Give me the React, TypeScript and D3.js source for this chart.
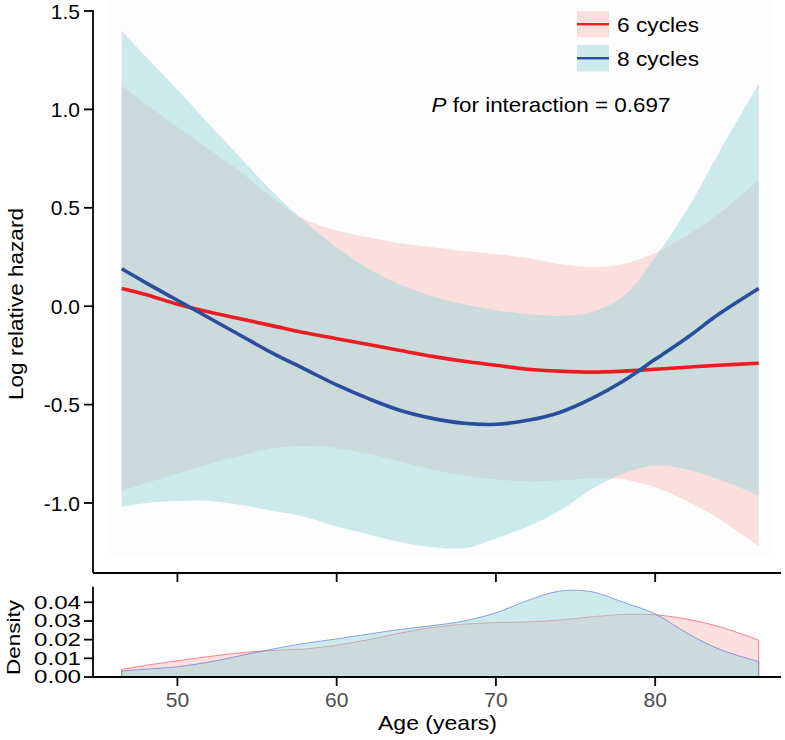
import React from "react";
import * as d3 from "d3";

// ---- data ----
const ages = [46.5, 48, 50, 52, 54, 56, 58, 60, 62, 64, 66, 68, 70, 72, 74, 76, 78, 80, 82, 84, 86.5];

// 6 cycles
const hr6 = [0.09, 0.06, 0.01, -0.03, -0.065, -0.1, -0.135, -0.165, -0.195, -0.225, -0.255, -0.28, -0.3, -0.32, -0.33, -0.335, -0.33, -0.32, -0.31, -0.3, -0.29];
const hi6 = [1.12, 1.03, 0.91, 0.795, 0.68, 0.55, 0.44, 0.385, 0.35, 0.32, 0.3, 0.28, 0.265, 0.245, 0.215, 0.2, 0.215, 0.27, 0.36, 0.47, 0.64];
const lo6 = [-0.94, -0.9, -0.85, -0.8, -0.76, -0.72, -0.71, -0.72, -0.75, -0.79, -0.83, -0.86, -0.88, -0.89, -0.885, -0.875, -0.88, -0.92, -0.99, -1.08, -1.22];

// 8 cycles
const hr8 = [0.19, 0.12, 0.03, -0.06, -0.15, -0.24, -0.32, -0.4, -0.47, -0.53, -0.57, -0.595, -0.6, -0.58, -0.54, -0.47, -0.38, -0.27, -0.16, -0.04, 0.09];
const hi8 = [1.4, 1.27, 1.1, 0.925, 0.75, 0.58, 0.43, 0.3, 0.19, 0.11, 0.05, 0.01, -0.02, -0.04, -0.05, -0.03, 0.05, 0.25, 0.49, 0.78, 1.13];
const lo8 = [-1.02, -1.0, -0.99, -0.99, -1.01, -1.04, -1.07, -1.12, -1.16, -1.2, -1.225, -1.23, -1.18, -1.12, -1.04, -0.93, -0.85, -0.81, -0.83, -0.88, -0.96];

// densities
const dens6 = [0.0041, 0.0062, 0.0087, 0.011, 0.013, 0.0142, 0.015, 0.017, 0.02, 0.0235, 0.0265, 0.0283, 0.0291, 0.0295, 0.0305, 0.0322, 0.0335, 0.0333, 0.031, 0.027, 0.0198];
const dens8 = [0.0032, 0.0042, 0.0055, 0.008, 0.0115, 0.015, 0.018, 0.0204, 0.023, 0.0255, 0.0275, 0.03, 0.0344, 0.041, 0.046, 0.0457, 0.04, 0.0338, 0.0235, 0.015, 0.0082];

const yTicks = [-1.0, -0.5, 0.0, 0.5, 1.0, 1.5];
const xTicks = [50, 60, 70, 80];
const densTicks = [0, 0.01, 0.02, 0.03, 0.04];
const seriesNames = ["6 cycles", "8 cycles"];

const RED = "#ec1c24";
const BLUE = "#2b4d9e";
const PINK_FILL = "rgba(248,180,182,0.42)";
const BLUE_FILL = "rgba(150,214,216,0.48)";
const FONT = "'Liberation Sans', Arial, Helvetica, sans-serif";

export default function App() {
  const x = d3.scaleLinear().domain([44.7, 87.9]).range([93, 781]);
  const y = d3.scaleLinear().domain([-1.0, 1.5]).range([503, 11]);
  const yd = d3.scaleLinear().domain([0, 0.04]).range([677, 602.3]);

  const idx = ages.map((_, i) => i);
  const curve = d3.curveCatmullRom.alpha(0.5);
  const band = (lo: number[], hi: number[]) =>
    d3.area<number>().x(i => x(ages[i])).y0(i => y(lo[i])).y1(i => y(hi[i])).curve(curve)(idx) || "";
  const line = (v: number[]) =>
    d3.line<number>().x(i => x(ages[i])).y(i => y(v[i])).curve(curve)(idx) || "";
  const dArea = (v: number[]) => {
    const a = d3.area<number>().x(i => x(ages[i])).y0(yd(0)).y1(i => yd(v[i])).curve(curve)(idx) || "";
    return a + "Z";
  };

  const axisW = 1.8;

  return (
    <svg width={785} height={740} style={{ position: "absolute", left: 0, top: 0, background: "#fff" }} fontFamily={FONT}>
      {/* faint panel background */}
      <rect x={109} y={0} width={664} height={557} fill="#fdfdfd" />

      {/* ribbons */}
      <path d={band(lo6, hi6)} fill={PINK_FILL} />
      <path d={band(lo8, hi8)} fill={BLUE_FILL} />
      {/* lines */}
      <path d={line(hr6)} fill="none" stroke={RED} strokeWidth={3.6} />
      <path d={line(hr8)} fill="none" stroke={BLUE} strokeWidth={3.6} />

      {/* top panel axes */}
      <line x1={93} x2={93} y1={10} y2={573} stroke="#000" strokeWidth={axisW} />
      <line x1={93} x2={781} y1={573} y2={573} stroke="#000" strokeWidth={axisW} />
      {yTicks.map(t => (
        <g key={"yt" + t}>
          <line x1={84} x2={93} y1={y(t)} y2={y(t)} stroke="#000" strokeWidth={axisW} />
          <text x={80} y={y(t) + 7.5} textAnchor="end" fontSize={21} fill="#000">{t.toFixed(1)}</text>
        </g>
      ))}
      {xTicks.map(t => (
        <line key={"xt" + t} x1={x(t)} x2={x(t)} y1={573} y2={582} stroke="#000" strokeWidth={axisW} />
      ))}
      <text transform={`translate(23,304) rotate(-90)`} textAnchor="middle" fontSize={19.5} textLength={192} lengthAdjust="spacingAndGlyphs" fill="#000">Log relative hazard</text>

      {/* legend */}
      {seriesNames.map((name, i) => {
        const top = i === 0 ? 11 : 45;
        return (
          <g key={name}>
            <rect x={577} y={top} width={32} height={26.5} fill={i === 0 ? PINK_FILL : BLUE_FILL} />
            <line x1={577} x2={609} y1={top + 13.2} y2={top + 13.2} stroke={i === 0 ? RED : BLUE} strokeWidth={2.4} />
            <text x={617} y={top + 20.5} fontSize={20} textLength={82} lengthAdjust="spacingAndGlyphs" fill="#000">{name}</text>
          </g>
        );
      })}
      <text x={431.5} y={111.5} fontSize={20.3} textLength={239} lengthAdjust="spacingAndGlyphs" fill="#000">
        <tspan fontStyle="italic">P</tspan> for interaction = 0.697
      </text>

      {/* density panel */}
      <path d={dArea(dens6)} fill={PINK_FILL} stroke="rgba(240,60,70,0.6)" strokeWidth={1} />
      <path d={dArea(dens8)} fill={BLUE_FILL} stroke="rgba(80,100,210,0.6)" strokeWidth={1} />
      <line x1={93} x2={93} y1={586.7} y2={677} stroke="#000" strokeWidth={axisW} />
      <line x1={93} x2={781} y1={677} y2={677} stroke="#000" strokeWidth={axisW} />
      {densTicks.map(t => (
        <g key={"dt" + t}>
          <line x1={84} x2={93} y1={yd(t)} y2={yd(t)} stroke="#000" strokeWidth={axisW} />
          <text x={81} y={yd(t) + 6.4} textAnchor="end" fontSize={18} textLength={47} lengthAdjust="spacingAndGlyphs" fill="#000">{t.toFixed(2)}</text>
        </g>
      ))}
      {xTicks.map(t => (
        <g key={"bx" + t}>
          <line x1={x(t)} x2={x(t)} y1={677} y2={686} stroke="#000" strokeWidth={axisW} />
          <text x={x(t)} y={706.5} textAnchor="middle" fontSize={21} fill="#4d4d4d">{t}</text>
        </g>
      ))}
      <text transform={`translate(20,637.5) rotate(-90)`} textAnchor="middle" fontSize={18.5} textLength={75} lengthAdjust="spacingAndGlyphs" fill="#000">Density</text>
      <text x={437.5} y={730} textAnchor="middle" fontSize={21} textLength={119} lengthAdjust="spacingAndGlyphs" fill="#000">Age (years)</text>
    </svg>
  );
}
